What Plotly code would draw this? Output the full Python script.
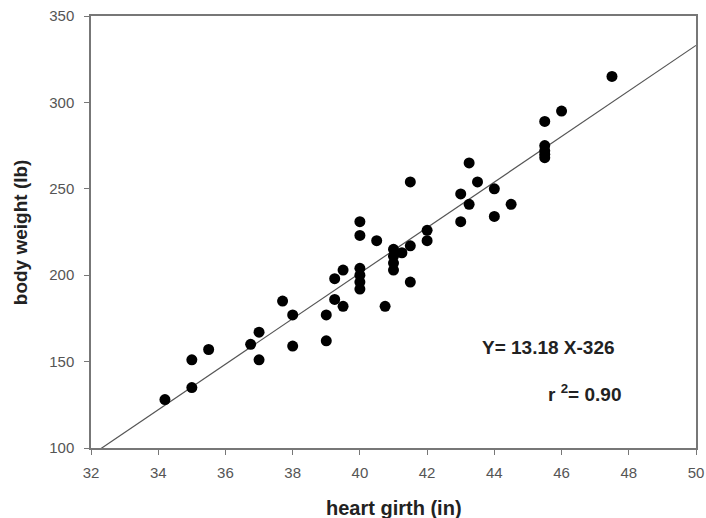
import plotly.graph_objects as go

heart_girth = [34.2, 35, 35, 35.5, 36.75, 37, 37, 37.7, 38, 38, 39, 39, 39.25, 39.5, 39.25, 39.5,
               40, 40, 40, 40, 40, 40, 40.5, 40.75, 41, 41, 41, 41, 41.25, 41.5, 41.5, 41.5,
               42, 42, 43, 43, 43.25, 43.25, 43.5, 44, 44, 44.5, 45.5, 45.5, 45.5, 45.5, 45.5, 46, 47.5]
body_weight = [128, 135, 151, 157, 160, 167, 151, 185, 177, 159, 177, 162, 198, 203, 186, 182,
               231, 223, 204, 200, 196, 192, 220, 182, 215, 211, 207, 203, 213, 254, 217, 196,
               226, 220, 247, 231, 265, 241, 254, 250, 234, 241, 289, 275, 272, 270, 268, 295, 315]

slope = 13.18
intercept = -326
x_range = [32, 50]
y_range = [100, 350]
x_ticks = [32, 34, 36, 38, 40, 42, 44, 46, 48, 50]
y_ticks = [100, 150, 200, 250, 300, 350]

fit_x = x_range
fit_y = [slope * v + intercept for v in fit_x]

fig = go.Figure()
fig.add_trace(go.Scatter(x=fit_x, y=fit_y, mode="lines",
                         line=dict(color="#555555", width=1.2), showlegend=False, hoverinfo="skip"))
fig.add_trace(go.Scatter(x=heart_girth, y=body_weight, mode="markers",
                         marker=dict(color="black", size=11), showlegend=False))

font_family = "Liberation Sans, Arial, sans-serif"
axis_common = dict(showgrid=False, zeroline=False, automargin=False,
                   showline=True, linecolor="#777777", linewidth=1.5, mirror=True,
                   ticks="outside", ticklen=5, tickcolor="#777777",
                   tickfont=dict(size=15, color="#555555", family=font_family))
fig.update_layout(
    width=706, height=518,
    margin=dict(l=91, r=10, t=16, b=70),
    paper_bgcolor="white", plot_bgcolor="white",
    font=dict(family=font_family, size=12, color="#444444"),
    xaxis=dict(range=x_range, tickvals=x_ticks, ticklabelstandoff=5, **axis_common),
    yaxis=dict(range=y_range, tickvals=y_ticks, ticklabelstandoff=7, **axis_common),
)
fig.add_annotation(x=0.5, y=-0.14, xref="paper", yref="paper", yanchor="middle", showarrow=False,
                   text="<b>heart girth (in)</b>", font=dict(size=20, color="#222222", family=font_family))
fig.add_annotation(x=-0.117, y=0.5, xref="paper", yref="paper", xanchor="center", showarrow=False,
                   textangle=-90, text="<b>body weight (lb)</b>",
                   font=dict(size=19, color="#222222", family=font_family))
fig.add_annotation(x=45.6, y=158.3, xref="x", yref="y", showarrow=False,
                   text="<b>Y= 13.18 X-326</b>", font=dict(size=19, color="#222222", family=font_family))
fig.add_annotation(x=46.67, y=131.6, xref="x", yref="y", showarrow=False,
                   text="<b>r <sup>2</sup>= 0.90</b>", font=dict(size=19, color="#222222", family=font_family))

fig.write_html("out.html", config={"displayModeBar": False},
               post_script="document.body.style.margin='0';document.body.style.overflow='hidden';")
